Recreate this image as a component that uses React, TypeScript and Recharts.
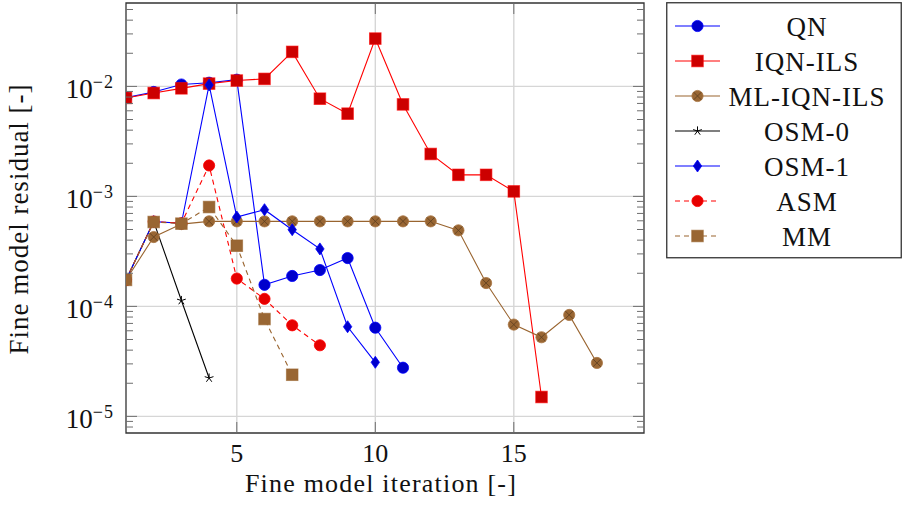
import React from 'react';
import { LineChart, Line, XAxis, YAxis, CartesianGrid, ReferenceArea } from 'recharts';

// iteration numbers (x) and residual per series (y)
const iterations = [1, 2, 3, 4, 5, 6, 7, 8, 9, 10, 11, 12, 13, 14, 15, 16, 17, 18];

const qnResidual = [7.9e-3, 8.9e-3, 1.04e-2, 1.08e-2, 1.15e-2, 1.57e-4, 1.89e-4, 2.14e-4, 2.75e-4, 6.4e-5, 2.77e-5];
const iqnIlsResidual = [
  7.85e-3, 8.7e-3, 9.6e-3, 1.06e-2, 1.13e-2, 1.17e-2, 2.06e-2, 7.73e-3, 5.65e-3, 2.72e-2, 6.86e-3, 2.43e-3,
  1.57e-3, 1.57e-3, 1.11e-3, 1.5e-5,
];
const mlIqnIlsResidual = [
  1.74e-4, 4.27e-4, 5.6e-4, 5.93e-4, 5.93e-4, 5.93e-4, 5.93e-4, 5.93e-4, 5.93e-4, 5.93e-4, 5.93e-4, 5.93e-4,
  4.91e-4, 1.63e-4, 6.83e-5, 5.24e-5, 8.36e-5, 3.06e-5,
];
const osm0Residual = [1.74e-4, 5.9e-4, 1.13e-4, 2.23e-5];
const osm1Residual = [1.74e-4, 5.9e-4, 5.7e-4, 1.03e-2, 6.49e-4, 7.57e-4, 4.98e-4, 3.33e-4, 6.53e-5, 3.1e-5];
const asmResidual = [1.74e-4, 5.9e-4, 5.7e-4, 1.91e-3, 1.79e-4, 1.17e-4, 6.73e-5, 4.43e-5];
const mmResidual = [1.74e-4, 5.85e-4, 5.65e-4, 8.0e-4, 3.56e-4, 7.67e-5, 2.39e-5];

const xTicks = [5, 10, 15];
const yMajor = [1e-5, 1e-4, 1e-3, 1e-2];
const yExponents = ['\u22125', '\u22124', '\u22123', '\u22122'];

const X_MIN = 1;
const X_MAX = 19.7;
const Y_MIN = 7.06e-6;
const Y_MAX = 0.0573;

// layout
const W = 903;
const H = 517;
const PLOT_L = 126;
const PLOT_R = 644;
const PLOT_T = 3;
const PLOT_B = 433;
const FONT = "'Liberation Serif', 'Times New Roman', serif";
const TICK_COLOR = '#6e6e6e';

const yMinor: number[] = [];
for (let e = -6; e <= -2; e++) {
  for (let m = 2; m <= 9; m++) {
    const v = m * Math.pow(10, e);
    if (v > Y_MIN && v < Y_MAX) yMinor.push(v);
  }
}
const yTicks = [...yMajor, ...yMinor].sort((a, b) => a - b);

type MarkKind = 'circle' | 'square' | 'ocircle' | 'star' | 'diamond';

interface SeriesDef {
  name: string;
  values: number[];
  color: string;
  fill: string;
  mark: MarkKind;
  dashed: boolean;
}

const series: SeriesDef[] = [
  { name: 'QN', values: qnResidual, color: '#0000ff', fill: '#0000cc', mark: 'circle', dashed: false },
  { name: 'IQN-ILS', values: iqnIlsResidual, color: '#ff0000', fill: '#cc0000', mark: 'square', dashed: false },
  { name: 'ML-IQN-ILS', values: mlIqnIlsResidual, color: '#99642f', fill: '#996633', mark: 'ocircle', dashed: false },
  { name: 'OSM-0', values: osm0Residual, color: '#000000', fill: '#000000', mark: 'star', dashed: false },
  { name: 'OSM-1', values: osm1Residual, color: '#0000ff', fill: '#0000cc', mark: 'diamond', dashed: false },
  { name: 'ASM', values: asmResidual, color: '#ff0000', fill: '#e60000', mark: 'circle', dashed: true },
  { name: 'MM', values: mmResidual, color: '#99642f', fill: '#996633', mark: 'square', dashed: true },
];

const toRows = (values: number[]) => values.map((v, i) => ({ it: iterations[i], r: v }));

function Mark({ kind, cx, cy, color, fill }: { kind: MarkKind; cx: number; cy: number; color: string; fill: string }) {
  if (cx == null || cy == null || isNaN(cx) || isNaN(cy)) return <g />;
  switch (kind) {
    case 'circle':
      return <circle cx={cx} cy={cy} r={5.6} fill={fill} stroke={color} strokeWidth={0.8} />;
    case 'square':
      return <rect x={cx - 5.8} y={cy - 5.8} width={11.6} height={11.6} fill={fill} stroke={color} strokeOpacity={0.6} strokeWidth={1} />;
    case 'ocircle': {
      const d = 3.9;
      return (
        <g>
          <circle cx={cx} cy={cy} r={5.6} fill={fill} stroke="#a87440" strokeWidth={0.8} />
          <line x1={cx - d} y1={cy - d} x2={cx + d} y2={cy + d} stroke="#5c3d1e" strokeWidth={0.8} />
          <line x1={cx - d} y1={cy + d} x2={cx + d} y2={cy - d} stroke="#5c3d1e" strokeWidth={0.8} />
        </g>
      );
    }
    case 'star': {
      const arms = [0, 1, 2, 3, 4].map((k) => {
        const a = (-90 + k * 72) * (Math.PI / 180);
        return (
          <line key={k} x1={cx} y1={cy} x2={cx + 4.6 * Math.cos(a)} y2={cy + 4.6 * Math.sin(a)} stroke={color} strokeWidth={1} />
        );
      });
      return <g>{arms}</g>;
    }
    case 'diamond':
      return (
        <polygon
          points={`${cx},${cy - 6} ${cx + 4.2},${cy} ${cx},${cy + 6} ${cx - 4.2},${cy}`}
          fill={fill}
          stroke={color}
          strokeWidth={0.8}
        />
      );
  }
  return <g />;
}

const YTick = (props: any) => {
  const { y, payload } = props;
  const v = payload.value;
  const idx = yMajor.findIndex((m) => Math.abs(m - v) / m < 1e-6);
  const len = idx >= 0 ? 11 : 7;
  return (
    <g>
      <line x1={PLOT_L} x2={PLOT_L + len} y1={y} y2={y} stroke={TICK_COLOR} strokeWidth={1} />
      <line x1={PLOT_R - len} x2={PLOT_R} y1={y} y2={y} stroke={TICK_COLOR} strokeWidth={1} />
      {idx >= 0 && (
        <text x={114} y={y + 12} textAnchor="end" fontFamily={FONT} fontSize={27} fill="#111">
          <tspan>10</tspan>
          <tspan dy={-10.5} fontSize={18} letterSpacing={1}>
            {yExponents[idx]}
          </tspan>
        </text>
      )}
    </g>
  );
};

const XTick = (props: any) => {
  const { x, payload } = props;
  return (
    <g>
      <line x1={x} x2={x} y1={PLOT_B} y2={PLOT_B - 11} stroke={TICK_COLOR} strokeWidth={1} />
      <line x1={x} x2={x} y1={PLOT_T} y2={PLOT_T + 11} stroke={TICK_COLOR} strokeWidth={1} />
      <text x={x} y={PLOT_B + 29} textAnchor="middle" fontFamily={FONT} fontSize={26} fill="#111">
        {payload.value}
      </text>
    </g>
  );
};

function LegendBox() {
  return (
    <svg
      width={236}
      height={257}
      style={{ position: 'absolute', left: 666, top: 2 }}
    >
      <rect x={0.75} y={0.75} width={234.5} height={255} fill="#fff" stroke="#333" strokeWidth={1.3} />
      {series.map((s, i) => {
        const cy = 24 + i * 35;
        return (
          <g key={s.name}>
            <line
              x1={9}
              x2={54}
              y1={cy}
              y2={cy}
              stroke={s.color}
              strokeWidth={1.2}
              strokeDasharray={s.dashed ? '5 4' : undefined}
            />
            <Mark kind={s.mark} cx={31.5} cy={cy} color={s.color} fill={s.fill} />
            <text
              x={141}
              y={cy + 9.5}
              textAnchor="middle"
              fontFamily={FONT}
              fontSize={27}
              letterSpacing={1}
              fill="#111"
            >
              {s.name}
            </text>
          </g>
        );
      })}
    </svg>
  );
}

export default function App() {
  return (
    <div style={{ position: 'absolute', left: 0, top: 0, width: W, height: H, background: '#fff' }}>
      <LineChart
        width={W}
        height={H}
        margin={{ top: PLOT_T, right: W - PLOT_R, bottom: 0, left: 0 }}
      >
        <CartesianGrid
          horizontalValues={yMajor}
          verticalValues={xTicks}
          stroke="#d6d6d6"
          strokeWidth={1.4}
        />
        <XAxis
          type="number"
          dataKey="it"
          domain={[X_MIN, X_MAX]}
          allowDataOverflow
          ticks={xTicks}
          interval={0}
          tick={<XTick />}
          tickLine={false}
          axisLine={false}
          height={H - PLOT_B}
          label={{
            content: () => (
              <text
                x={(PLOT_L + PLOT_R) / 2 - 4}
                y={492}
                textAnchor="middle"
                fontFamily={FONT}
                fontSize={26}
                letterSpacing={1.2}
                fill="#111"
              >
                Fine model iteration [-]
              </text>
            ),
          }}
        />
        <YAxis
          type="number"
          scale="log"
          domain={[Y_MIN, Y_MAX]}
          allowDataOverflow
          ticks={yTicks}
          interval={0}
          tick={<YTick />}
          tickLine={false}
          axisLine={false}
          width={PLOT_L}
          label={{
            content: () => (
              <text
                x={28}
                y={219}
                transform="rotate(-90, 28, 219)"
                textAnchor="middle"
                fontFamily={FONT}
                fontSize={27}
                letterSpacing={1}
                fill="#111"
              >
                Fine model residual [-]
              </text>
            ),
          }}
        />
        <ReferenceArea
          x1={X_MIN}
          x2={X_MAX}
          y1={Y_MIN}
          y2={Y_MAX}
          fill="none"
          fillOpacity={0}
          stroke="#333"
          strokeWidth={1.3}
          ifOverflow="visible"
        />
        {series.map((s) => (
          <Line
            key={s.name}
            data={toRows(s.values)}
            dataKey="r"
            name={s.name}
            type="linear"
            stroke={s.color}
            strokeWidth={1.1}
            strokeDasharray={s.dashed ? '5 4' : undefined}
            isAnimationActive={false}
            activeDot={false}
            dot={(p: any) => (
              <Mark key={`${s.name}-${p.index}`} kind={s.mark} cx={p.cx} cy={p.cy} color={s.color} fill={s.fill} />
            )}
          />
        ))}
      </LineChart>
      <LegendBox />
    </div>
  );
}
